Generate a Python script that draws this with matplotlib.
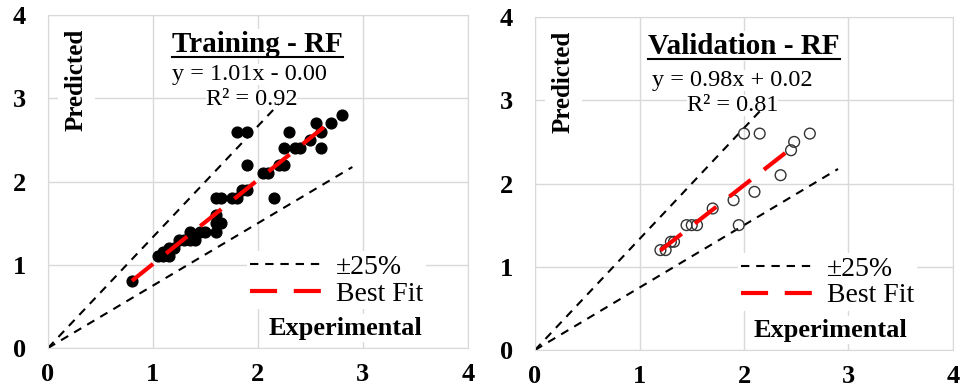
import numpy as np
import matplotlib.pyplot as plt
from matplotlib.lines import Line2D

plt.rcParams['font.family'] = ['Liberation Serif', 'DejaVu Serif']

# training (experimental, predicted)
train_exp = [0.8, 1.05, 1.1, 1.15, 1.1, 1.15, 1.2, 1.25, 1.3, 1.35, 1.4, 1.35, 1.45, 1.5, 1.6,
             1.6, 1.65, 1.6, 1.6, 1.65, 1.75, 1.8, 1.85, 1.9, 1.9, 1.8, 1.9,
             2.05, 2.1, 2.15, 2.2, 2.25, 2.25, 2.3, 2.35, 2.4, 2.5, 2.55, 2.6, 2.6, 2.7, 2.8]
train_pred = [0.8, 1.1, 1.1, 1.1, 1.15, 1.2, 1.2, 1.3, 1.3, 1.3, 1.3, 1.4, 1.4, 1.4, 1.4,
              1.5, 1.5, 1.6, 1.8, 1.8, 1.8, 1.8, 1.9, 1.9, 2.2, 2.6, 2.6,
              2.1, 2.1, 1.8, 2.2, 2.2, 2.4, 2.6, 2.4, 2.4, 2.5, 2.7, 2.6, 2.4, 2.7, 2.8]

# validation
val_exp = [1.2, 1.25, 1.3, 1.33, 1.45, 1.5, 1.55, 1.7, 1.9, 1.95, 2.0, 2.15, 2.1, 2.35, 2.45, 2.48, 2.63]
val_pred = [1.2, 1.2, 1.3, 1.3, 1.5, 1.5, 1.5, 1.7, 1.8, 1.5, 2.6, 2.6, 1.9, 2.1, 2.4, 2.5, 2.6]

# best fit lines
train_fit = (1.01, -0.00)
val_fit = (0.98, 0.02)
train_fit_x = [0.8, 2.75]
val_fit_x = [1.2, 2.5]

# +-25% band extents
upper_x = [0, 2.2]
lower_x = [0, 2.9]

panels = [
    dict(title="Training - RF", eq="y = 1.01x - 0.00", r2="R² = 0.92",
         x=train_exp, y=train_pred, fit=train_fit, fit_x=train_fit_x, filled=True,
         rect=[0.0498, 0.103, 0.436, 0.858],
         eq_pos=(1.92, 3.29), r2_pos=(1.94, 2.99), leg_x=0.475),
    dict(title="Validation - RF", eq="y = 0.98x + 0.02", r2="R² = 0.81",
         x=val_exp, y=val_pred, fit=val_fit, fit_x=val_fit_x, filled=False,
         rect=[0.5556, 0.098, 0.434, 0.858],
         eq_pos=(1.89, 3.24), r2_pos=(1.89, 2.94), leg_x=0.485),
]

fig = plt.figure(figsize=(9.63, 3.88), dpi=100)
grid_c = "#d9d9d9"
titles = []

for p in panels:
    ax = fig.add_axes(p["rect"])
    ax.set_xlim(0, 4)
    ax.set_ylim(0, 4)
    ax.set_xticks([0, 1, 2, 3, 4])
    ax.set_yticks([0, 1, 2, 3, 4])
    ax.grid(True, color=grid_c, lw=1)
    ax.set_axisbelow(True)
    for s in ax.spines.values():
        s.set_color(grid_c)
    ax.tick_params(length=0, labelsize=19)
    ax.tick_params(axis="x", pad=11)
    ax.tick_params(axis="y", pad=16)
    for lab in ax.get_xticklabels() + ax.get_yticklabels():
        lab.set_fontweight("bold")

    ux = np.array(upper_x)
    lx = np.array(lower_x)
    ax.plot(ux, ux / 0.75, ls=(0, (4, 3.3)), color="black", lw=1.5, zorder=2)
    ax.plot(lx, lx * 0.75, ls=(0, (4, 3.3)), color="black", lw=1.5, zorder=2)

    if p["filled"]:
        ax.scatter(p["x"], p["y"], s=60, color="black", zorder=3)
    else:
        ax.scatter(p["x"], p["y"], s=60, facecolors="none", edgecolors="#333333",
                   linewidths=1.0, zorder=3)

    fx = np.array(p["fit_x"])
    m, b = p["fit"]
    ax.plot(fx, m * fx + b, ls=(0, (6.5, 4)), color="red", lw=3, zorder=4)

    t = ax.text(2.0, 3.65, p["title"], fontsize=21, fontweight="bold",
                ha="center", va="center", zorder=6,
                bbox=dict(facecolor="white", edgecolor="none", pad=1))
    titles.append(t)
    ax.text(*p["eq_pos"], p["eq"], fontsize=17.5, ha="center", va="center", zorder=6,
            bbox=dict(facecolor="white", edgecolor="none", pad=0))
    ax.text(*p["r2_pos"], p["r2"], fontsize=17.5, ha="center", va="center", zorder=1.5,
            bbox=dict(facecolor="white", edgecolor="none", pad=0))
    ax.text(0.27, 3.22, "Predicted", fontsize=18, fontweight="bold", rotation=90,
            ha="center", va="center", zorder=6,
            bbox=dict(facecolor="white", edgecolor="none", pad=5))
    ax.text(2.83, 0.24, "Experimental", fontsize=19, fontweight="bold",
            ha="center", va="center", zorder=6,
            bbox=dict(facecolor="white", edgecolor="none", pad=2))

    handles = [
        Line2D([], [], ls=(0, (4, 3.3)), color="black", lw=1.5),
        Line2D([], [], ls=(0, (6.5, 4)), color="red", lw=3),
    ]
    leg = ax.legend(handles, ["±25%", "Best Fit"], loc="upper left",
                    bbox_to_anchor=(p["leg_x"], 0.29), fontsize=20, frameon=True,
                    handlelength=2.6, handletextpad=0.5, labelspacing=0.05,
                    borderpad=0.1, borderaxespad=0, framealpha=1)
    leg.get_frame().set_edgecolor("none")
    leg.set_zorder(5)

# underline the panel titles
fig.canvas.draw()
r = fig.canvas.get_renderer()
for t in titles:
    bb = t.get_window_extent(r)
    W, H = fig.bbox.width, fig.bbox.height
    yline = (bb.y0 + 1) / H
    fig.add_artist(Line2D([bb.x0 / W, bb.x1 / W], [yline, yline], color="black", lw=1.5))

fig.savefig("out.png", dpi=100)
